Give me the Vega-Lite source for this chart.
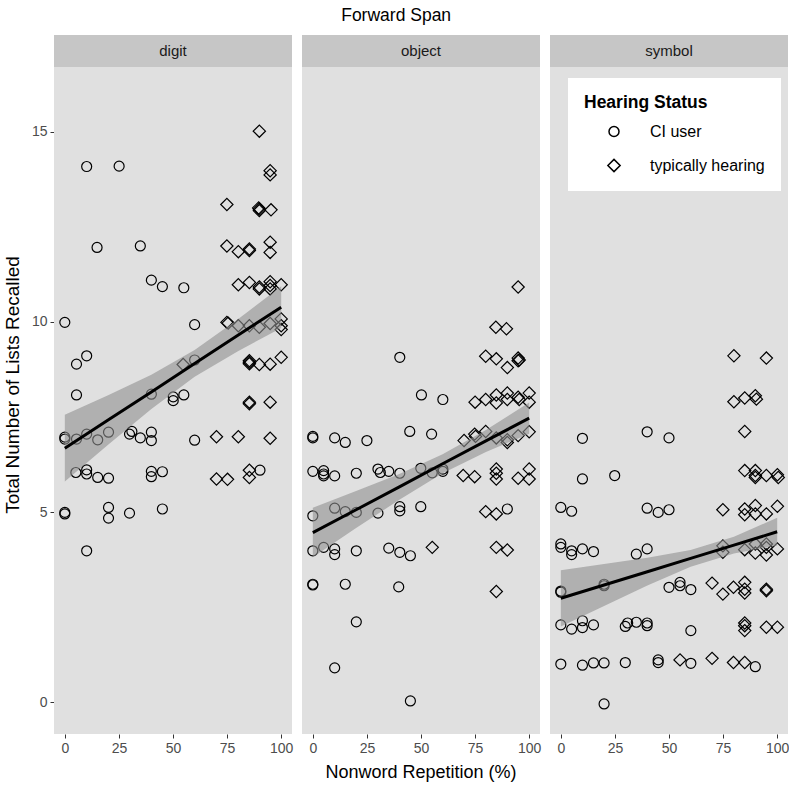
{
"$schema": "https://vega.github.io/schema/vega-lite/v6.json",
"padding": {"left": 3, "top": 6, "right": 0, "bottom": 0},
"background": "white",
"title": {"text": "Forward Span", "fontSize": 17.5, "font": "Liberation Sans", "fontWeight": "normal", "anchor": "middle", "color": "black", "offset": 11},
"config": {"font": "Liberation Sans", "view": {"stroke": null, "fill": "#E0E0E0"}},
"datasets": {
"pts": [
{"task":"digit","status":"CI user","nwr":10.1,"lists":14.09},{"task":"digit","status":"CI user","nwr":25.1,"lists":14.1},{"task":"digit","status":"CI user","nwr":14.9,"lists":11.96},{"task":"digit","status":"CI user","nwr":34.9,"lists":12.0},{"task":"digit","status":"CI user","nwr":40,"lists":11.1},{"task":"digit","status":"CI user","nwr":45.1,"lists":10.93},{"task":"digit","status":"CI user","nwr":55,"lists":10.9},{"task":"digit","status":"CI user","nwr":0,"lists":9.99},{"task":"digit","status":"CI user","nwr":60,"lists":9.93},{"task":"digit","status":"CI user","nwr":5.4,"lists":8.89},{"task":"digit","status":"CI user","nwr":10.1,"lists":9.11},{"task":"digit","status":"CI user","nwr":60,"lists":9.0},{"task":"digit","status":"CI user","nwr":5.4,"lists":8.08},{"task":"digit","status":"CI user","nwr":40,"lists":8.1},{"task":"digit","status":"CI user","nwr":50.1,"lists":8.03},{"task":"digit","status":"CI user","nwr":50.1,"lists":7.93},{"task":"digit","status":"CI user","nwr":55,"lists":8.08},
{"task":"digit","status":"CI user","nwr":0,"lists":6.97},{"task":"digit","status":"CI user","nwr":0,"lists":6.92},{"task":"digit","status":"CI user","nwr":5.4,"lists":6.92},{"task":"digit","status":"CI user","nwr":10.1,"lists":7.05},{"task":"digit","status":"CI user","nwr":15.2,"lists":6.9},{"task":"digit","status":"CI user","nwr":20.2,"lists":7.1},{"task":"digit","status":"CI user","nwr":29.9,"lists":7.05},{"task":"digit","status":"CI user","nwr":31,"lists":7.12},{"task":"digit","status":"CI user","nwr":34.9,"lists":6.95},{"task":"digit","status":"CI user","nwr":40,"lists":7.1},{"task":"digit","status":"CI user","nwr":40,"lists":6.88},{"task":"digit","status":"CI user","nwr":60,"lists":6.89},
{"task":"digit","status":"CI user","nwr":5.1,"lists":6.04},{"task":"digit","status":"CI user","nwr":10.1,"lists":6.11},{"task":"digit","status":"CI user","nwr":10.1,"lists":6.0},{"task":"digit","status":"CI user","nwr":15.2,"lists":5.91},{"task":"digit","status":"CI user","nwr":20.2,"lists":5.89},{"task":"digit","status":"CI user","nwr":40,"lists":6.07},{"task":"digit","status":"CI user","nwr":40,"lists":5.93},{"task":"digit","status":"CI user","nwr":45.1,"lists":6.06},{"task":"digit","status":"CI user","nwr":90.2,"lists":6.1},
{"task":"digit","status":"CI user","nwr":0,"lists":4.99},{"task":"digit","status":"CI user","nwr":0,"lists":4.95},{"task":"digit","status":"CI user","nwr":20.2,"lists":5.12},{"task":"digit","status":"CI user","nwr":20.2,"lists":4.84},{"task":"digit","status":"CI user","nwr":29.9,"lists":4.97},{"task":"digit","status":"CI user","nwr":45.1,"lists":5.08},{"task":"digit","status":"CI user","nwr":10.1,"lists":3.98},
{"task":"digit","status":"typically hearing","nwr":89.9,"lists":15.02},{"task":"digit","status":"typically hearing","nwr":94.9,"lists":13.98},{"task":"digit","status":"typically hearing","nwr":94.9,"lists":13.87},{"task":"digit","status":"typically hearing","nwr":74.9,"lists":13.09},{"task":"digit","status":"typically hearing","nwr":89.9,"lists":12.97},{"task":"digit","status":"typically hearing","nwr":89.6,"lists":13.0},{"task":"digit","status":"typically hearing","nwr":89.9,"lists":12.93},{"task":"digit","status":"typically hearing","nwr":95.3,"lists":12.95},
{"task":"digit","status":"typically hearing","nwr":74.9,"lists":12.0},{"task":"digit","status":"typically hearing","nwr":80.2,"lists":11.85},{"task":"digit","status":"typically hearing","nwr":85.3,"lists":11.92},{"task":"digit","status":"typically hearing","nwr":85.3,"lists":11.88},{"task":"digit","status":"typically hearing","nwr":94.9,"lists":12.1},{"task":"digit","status":"typically hearing","nwr":94.9,"lists":11.83},
{"task":"digit","status":"typically hearing","nwr":80.2,"lists":10.98},{"task":"digit","status":"typically hearing","nwr":85.3,"lists":11.04},{"task":"digit","status":"typically hearing","nwr":89.9,"lists":10.87},{"task":"digit","status":"typically hearing","nwr":89.9,"lists":10.92},{"task":"digit","status":"typically hearing","nwr":94.9,"lists":11.06},{"task":"digit","status":"typically hearing","nwr":94.9,"lists":10.96},{"task":"digit","status":"typically hearing","nwr":94.9,"lists":10.87},{"task":"digit","status":"typically hearing","nwr":100,"lists":10.98},
{"task":"digit","status":"typically hearing","nwr":74.9,"lists":9.99},{"task":"digit","status":"typically hearing","nwr":75.5,"lists":9.97},{"task":"digit","status":"typically hearing","nwr":80.2,"lists":9.9},{"task":"digit","status":"typically hearing","nwr":85.3,"lists":9.9},{"task":"digit","status":"typically hearing","nwr":89.9,"lists":9.86},{"task":"digit","status":"typically hearing","nwr":94.9,"lists":9.96},{"task":"digit","status":"typically hearing","nwr":100,"lists":10.08},{"task":"digit","status":"typically hearing","nwr":100,"lists":9.9},{"task":"digit","status":"typically hearing","nwr":100,"lists":9.8},
{"task":"digit","status":"typically hearing","nwr":54.7,"lists":8.88},{"task":"digit","status":"typically hearing","nwr":85.3,"lists":8.94},{"task":"digit","status":"typically hearing","nwr":85.3,"lists":8.98},{"task":"digit","status":"typically hearing","nwr":85.3,"lists":8.9},{"task":"digit","status":"typically hearing","nwr":89.9,"lists":8.88},{"task":"digit","status":"typically hearing","nwr":94.9,"lists":8.89},{"task":"digit","status":"typically hearing","nwr":100,"lists":9.07},
{"task":"digit","status":"typically hearing","nwr":85.3,"lists":7.89},{"task":"digit","status":"typically hearing","nwr":85.3,"lists":7.85},{"task":"digit","status":"typically hearing","nwr":94.9,"lists":7.89},
{"task":"digit","status":"typically hearing","nwr":70.1,"lists":6.98},{"task":"digit","status":"typically hearing","nwr":80.2,"lists":6.98},{"task":"digit","status":"typically hearing","nwr":94.9,"lists":6.94},
{"task":"digit","status":"typically hearing","nwr":70.1,"lists":5.87},{"task":"digit","status":"typically hearing","nwr":75.2,"lists":5.86},{"task":"digit","status":"typically hearing","nwr":85.3,"lists":6.1},{"task":"digit","status":"typically hearing","nwr":85.3,"lists":5.91},
{"task":"object","status":"CI user","nwr":40.2,"lists":9.07},{"task":"object","status":"CI user","nwr":50.2,"lists":8.08},{"task":"object","status":"CI user","nwr":60.1,"lists":7.96},
{"task":"object","status":"CI user","nwr":0,"lists":6.99},{"task":"object","status":"CI user","nwr":0,"lists":6.95},{"task":"object","status":"CI user","nwr":10.1,"lists":6.95},{"task":"object","status":"CI user","nwr":15,"lists":6.83},{"task":"object","status":"CI user","nwr":25,"lists":6.88},{"task":"object","status":"CI user","nwr":44.8,"lists":7.12},{"task":"object","status":"CI user","nwr":54.9,"lists":7.05},
{"task":"object","status":"CI user","nwr":0,"lists":6.07},{"task":"object","status":"CI user","nwr":5,"lists":6.09},{"task":"object","status":"CI user","nwr":5,"lists":6.0},{"task":"object","status":"CI user","nwr":5,"lists":5.95},{"task":"object","status":"CI user","nwr":10.1,"lists":5.95},{"task":"object","status":"CI user","nwr":20.1,"lists":6.02},{"task":"object","status":"CI user","nwr":30.1,"lists":6.13},{"task":"object","status":"CI user","nwr":31.2,"lists":6.04},{"task":"object","status":"CI user","nwr":35.1,"lists":6.07},{"task":"object","status":"CI user","nwr":40.2,"lists":6.02},{"task":"object","status":"CI user","nwr":49.9,"lists":6.15},{"task":"object","status":"CI user","nwr":55.2,"lists":6.03},{"task":"object","status":"CI user","nwr":60.1,"lists":6.13},{"task":"object","status":"CI user","nwr":60.1,"lists":6.07},
{"task":"object","status":"CI user","nwr":0,"lists":4.9},{"task":"object","status":"CI user","nwr":10.1,"lists":5.1},{"task":"object","status":"CI user","nwr":15,"lists":5.01},{"task":"object","status":"CI user","nwr":20.1,"lists":4.99},{"task":"object","status":"CI user","nwr":30.1,"lists":4.97},{"task":"object","status":"CI user","nwr":40.2,"lists":5.14},{"task":"object","status":"CI user","nwr":40.2,"lists":5.03},{"task":"object","status":"CI user","nwr":49.9,"lists":5.14},{"task":"object","status":"CI user","nwr":89.9,"lists":5.08},
{"task":"object","status":"CI user","nwr":0,"lists":3.98},{"task":"object","status":"CI user","nwr":5,"lists":4.07},{"task":"object","status":"CI user","nwr":10.1,"lists":4.03},{"task":"object","status":"CI user","nwr":10.1,"lists":3.88},{"task":"object","status":"CI user","nwr":20.1,"lists":3.98},{"task":"object","status":"CI user","nwr":35.1,"lists":4.05},{"task":"object","status":"CI user","nwr":40.2,"lists":3.94},{"task":"object","status":"CI user","nwr":45.1,"lists":3.85},
{"task":"object","status":"CI user","nwr":0,"lists":3.1},{"task":"object","status":"CI user","nwr":0,"lists":3.08},{"task":"object","status":"CI user","nwr":15,"lists":3.1},{"task":"object","status":"CI user","nwr":39.7,"lists":3.03},{"task":"object","status":"CI user","nwr":20.1,"lists":2.11},{"task":"object","status":"CI user","nwr":10.1,"lists":0.9},{"task":"object","status":"CI user","nwr":45.1,"lists":0.03},
{"task":"object","status":"typically hearing","nwr":94.9,"lists":10.92},{"task":"object","status":"typically hearing","nwr":84.6,"lists":9.86},{"task":"object","status":"typically hearing","nwr":89.5,"lists":9.82},{"task":"object","status":"typically hearing","nwr":79.9,"lists":9.1},{"task":"object","status":"typically hearing","nwr":84.8,"lists":9.03},{"task":"object","status":"typically hearing","nwr":89.9,"lists":8.8},{"task":"object","status":"typically hearing","nwr":94.9,"lists":9.05},{"task":"object","status":"typically hearing","nwr":94.9,"lists":8.98},{"task":"object","status":"typically hearing","nwr":95.4,"lists":9.0},
{"task":"object","status":"typically hearing","nwr":75,"lists":7.89},{"task":"object","status":"typically hearing","nwr":79.9,"lists":7.96},{"task":"object","status":"typically hearing","nwr":84.8,"lists":8.08},{"task":"object","status":"typically hearing","nwr":84.8,"lists":7.87},{"task":"object","status":"typically hearing","nwr":89.9,"lists":8.13},{"task":"object","status":"typically hearing","nwr":89.9,"lists":7.96},{"task":"object","status":"typically hearing","nwr":94.9,"lists":8.02},{"task":"object","status":"typically hearing","nwr":95.4,"lists":7.96},{"task":"object","status":"typically hearing","nwr":100,"lists":8.13},{"task":"object","status":"typically hearing","nwr":100,"lists":7.89},
{"task":"object","status":"typically hearing","nwr":69.9,"lists":6.88},{"task":"object","status":"typically hearing","nwr":74.8,"lists":7.05},{"task":"object","status":"typically hearing","nwr":75.2,"lists":6.99},{"task":"object","status":"typically hearing","nwr":79.9,"lists":7.12},{"task":"object","status":"typically hearing","nwr":84.8,"lists":6.95},{"task":"object","status":"typically hearing","nwr":89.9,"lists":6.83},{"task":"object","status":"typically hearing","nwr":89.9,"lists":6.9},{"task":"object","status":"typically hearing","nwr":94.9,"lists":7.01},{"task":"object","status":"typically hearing","nwr":100,"lists":7.11},
{"task":"object","status":"typically hearing","nwr":69.5,"lists":5.96},{"task":"object","status":"typically hearing","nwr":74.8,"lists":5.93},{"task":"object","status":"typically hearing","nwr":84.8,"lists":6.13},{"task":"object","status":"typically hearing","nwr":84.8,"lists":6.02},{"task":"object","status":"typically hearing","nwr":84.8,"lists":5.87},{"task":"object","status":"typically hearing","nwr":94.9,"lists":5.89},{"task":"object","status":"typically hearing","nwr":100,"lists":6.13},{"task":"object","status":"typically hearing","nwr":100,"lists":5.87},
{"task":"object","status":"typically hearing","nwr":79.9,"lists":5.01},{"task":"object","status":"typically hearing","nwr":84.8,"lists":4.95},{"task":"object","status":"typically hearing","nwr":55.2,"lists":4.07},{"task":"object","status":"typically hearing","nwr":84.8,"lists":4.07},{"task":"object","status":"typically hearing","nwr":89.9,"lists":4.0},{"task":"object","status":"typically hearing","nwr":84.8,"lists":2.91},
{"task":"symbol","status":"CI user","nwr":10,"lists":6.94},{"task":"symbol","status":"CI user","nwr":39.9,"lists":7.11},{"task":"symbol","status":"CI user","nwr":50,"lists":6.95},{"task":"symbol","status":"CI user","nwr":10,"lists":5.87},{"task":"symbol","status":"CI user","nwr":24.9,"lists":5.96},
{"task":"symbol","status":"CI user","nwr":0,"lists":5.12},{"task":"symbol","status":"CI user","nwr":5,"lists":5.02},{"task":"symbol","status":"CI user","nwr":39.9,"lists":5.1},{"task":"symbol","status":"CI user","nwr":45,"lists":4.99},{"task":"symbol","status":"CI user","nwr":50,"lists":5.06},
{"task":"symbol","status":"CI user","nwr":0,"lists":4.16},{"task":"symbol","status":"CI user","nwr":0,"lists":4.07},{"task":"symbol","status":"CI user","nwr":5,"lists":3.98},{"task":"symbol","status":"CI user","nwr":5,"lists":3.88},{"task":"symbol","status":"CI user","nwr":10,"lists":4.03},{"task":"symbol","status":"CI user","nwr":15.1,"lists":3.96},{"task":"symbol","status":"CI user","nwr":34.9,"lists":3.89},{"task":"symbol","status":"CI user","nwr":39.9,"lists":4.03},
{"task":"symbol","status":"CI user","nwr":0,"lists":2.89},{"task":"symbol","status":"CI user","nwr":0,"lists":2.92},{"task":"symbol","status":"CI user","nwr":20,"lists":3.1},{"task":"symbol","status":"CI user","nwr":20,"lists":3.06},{"task":"symbol","status":"CI user","nwr":50,"lists":3.02},{"task":"symbol","status":"CI user","nwr":55.1,"lists":3.15},{"task":"symbol","status":"CI user","nwr":55.1,"lists":3.06},{"task":"symbol","status":"CI user","nwr":60.1,"lists":2.96},
{"task":"symbol","status":"CI user","nwr":0,"lists":2.03},{"task":"symbol","status":"CI user","nwr":5,"lists":1.92},{"task":"symbol","status":"CI user","nwr":10,"lists":2.14},{"task":"symbol","status":"CI user","nwr":10,"lists":1.96},{"task":"symbol","status":"CI user","nwr":15.1,"lists":2.03},{"task":"symbol","status":"CI user","nwr":29.8,"lists":1.99},{"task":"symbol","status":"CI user","nwr":30.9,"lists":2.08},{"task":"symbol","status":"CI user","nwr":34.9,"lists":2.1},{"task":"symbol","status":"CI user","nwr":39.9,"lists":2.08},{"task":"symbol","status":"CI user","nwr":39.9,"lists":2.01},{"task":"symbol","status":"CI user","nwr":60.1,"lists":1.88},
{"task":"symbol","status":"CI user","nwr":0,"lists":1.0},{"task":"symbol","status":"CI user","nwr":10,"lists":0.97},{"task":"symbol","status":"CI user","nwr":15.1,"lists":1.03},{"task":"symbol","status":"CI user","nwr":20,"lists":1.03},{"task":"symbol","status":"CI user","nwr":29.8,"lists":1.04},{"task":"symbol","status":"CI user","nwr":45,"lists":1.11},{"task":"symbol","status":"CI user","nwr":45,"lists":1.04},{"task":"symbol","status":"CI user","nwr":60.1,"lists":1.02},{"task":"symbol","status":"CI user","nwr":89.9,"lists":0.93},{"task":"symbol","status":"CI user","nwr":20,"lists":-0.05},
{"task":"symbol","status":"typically hearing","nwr":80,"lists":9.11},{"task":"symbol","status":"typically hearing","nwr":95,"lists":9.05},{"task":"symbol","status":"typically hearing","nwr":80,"lists":7.9},{"task":"symbol","status":"typically hearing","nwr":85,"lists":8.0},{"task":"symbol","status":"typically hearing","nwr":89.9,"lists":8.06},{"task":"symbol","status":"typically hearing","nwr":90.4,"lists":7.97},{"task":"symbol","status":"typically hearing","nwr":85,"lists":7.12},
{"task":"symbol","status":"typically hearing","nwr":85,"lists":6.09},{"task":"symbol","status":"typically hearing","nwr":89.9,"lists":6.09},{"task":"symbol","status":"typically hearing","nwr":89.9,"lists":5.96},{"task":"symbol","status":"typically hearing","nwr":89.9,"lists":5.91},{"task":"symbol","status":"typically hearing","nwr":95,"lists":5.96},{"task":"symbol","status":"typically hearing","nwr":100.1,"lists":5.98},{"task":"symbol","status":"typically hearing","nwr":100.5,"lists":5.91},
{"task":"symbol","status":"typically hearing","nwr":74.9,"lists":5.06},{"task":"symbol","status":"typically hearing","nwr":85,"lists":5.08},{"task":"symbol","status":"typically hearing","nwr":85,"lists":4.93},{"task":"symbol","status":"typically hearing","nwr":89.9,"lists":5.17},{"task":"symbol","status":"typically hearing","nwr":89.9,"lists":4.95},{"task":"symbol","status":"typically hearing","nwr":95,"lists":4.95},{"task":"symbol","status":"typically hearing","nwr":100.1,"lists":5.15},
{"task":"symbol","status":"typically hearing","nwr":74.9,"lists":4.11},{"task":"symbol","status":"typically hearing","nwr":74.9,"lists":3.94},{"task":"symbol","status":"typically hearing","nwr":85,"lists":4.01},{"task":"symbol","status":"typically hearing","nwr":89.9,"lists":4.16},{"task":"symbol","status":"typically hearing","nwr":89.9,"lists":3.92},{"task":"symbol","status":"typically hearing","nwr":95,"lists":4.16},{"task":"symbol","status":"typically hearing","nwr":95,"lists":4.07},{"task":"symbol","status":"typically hearing","nwr":95,"lists":3.87},{"task":"symbol","status":"typically hearing","nwr":100.1,"lists":4.03},
{"task":"symbol","status":"typically hearing","nwr":69.9,"lists":3.13},{"task":"symbol","status":"typically hearing","nwr":74.9,"lists":2.84},{"task":"symbol","status":"typically hearing","nwr":79.8,"lists":3.02},{"task":"symbol","status":"typically hearing","nwr":85,"lists":3.15},{"task":"symbol","status":"typically hearing","nwr":85,"lists":2.97},{"task":"symbol","status":"typically hearing","nwr":85,"lists":2.87},{"task":"symbol","status":"typically hearing","nwr":95,"lists":2.97},{"task":"symbol","status":"typically hearing","nwr":95,"lists":2.93},
{"task":"symbol","status":"typically hearing","nwr":85,"lists":2.08},{"task":"symbol","status":"typically hearing","nwr":85,"lists":2.01},{"task":"symbol","status":"typically hearing","nwr":85,"lists":1.88},{"task":"symbol","status":"typically hearing","nwr":95,"lists":1.97},{"task":"symbol","status":"typically hearing","nwr":100.1,"lists":1.97},
{"task":"symbol","status":"typically hearing","nwr":55.1,"lists":1.11},{"task":"symbol","status":"typically hearing","nwr":69.9,"lists":1.15},{"task":"symbol","status":"typically hearing","nwr":79.8,"lists":1.04},{"task":"symbol","status":"typically hearing","nwr":85,"lists":1.04},
{"task":"digit","nwr":0,"fit":6.68,"lo":5.8,"hi":7.56},{"task":"digit","nwr":20,"fit":7.42,"lo":6.77,"hi":8.07},{"task":"digit","nwr":40,"fit":8.16,"lo":7.71,"hi":8.61},{"task":"digit","nwr":60,"fit":8.91,"lo":8.56,"hi":9.26},{"task":"digit","nwr":80,"fit":9.65,"lo":9.23,"hi":10.07},{"task":"digit","nwr":100,"fit":10.39,"lo":9.84,"hi":10.94},
{"task":"object","nwr":0,"fit":4.46,"lo":3.81,"hi":5.11},{"task":"object","nwr":20,"fit":5.06,"lo":4.58,"hi":5.55},{"task":"object","nwr":40,"fit":5.66,"lo":5.32,"hi":6.0},{"task":"object","nwr":60,"fit":6.27,"lo":6.02,"hi":6.52},{"task":"object","nwr":80,"fit":6.87,"lo":6.58,"hi":7.16},{"task":"object","nwr":100,"fit":7.47,"lo":7.06,"hi":7.88},
{"task":"symbol","nwr":0,"fit":2.73,"lo":1.99,"hi":3.47},{"task":"symbol","nwr":20,"fit":3.08,"lo":2.53,"hi":3.63},{"task":"symbol","nwr":40,"fit":3.43,"lo":3.07,"hi":3.8},{"task":"symbol","nwr":60,"fit":3.78,"lo":3.56,"hi":4.0},{"task":"symbol","nwr":80,"fit":4.13,"lo":3.91,"hi":4.35},{"task":"symbol","nwr":100,"fit":4.48,"lo":4.12,"hi":4.85}
]},
"data": {"name": "pts"},
"facet": {"column": {"field": "task", "type": "nominal", "header": {"labels": false, "title": "Nonword Repetition (%)", "titleOrient": "bottom", "titleFontSize": 18, "titleFontWeight": "normal", "titleColor": "black", "titleFont": "Liberation Sans", "titlePadding": -1, "titleBaseline": "top"}}},
"spacing": 10,
"spec": {
"width": 238,
"height": 699,
"layer": [
{"transform": [{"filter": {"and": [{"field": "fit", "valid": true}, {"field": "nwr", "equal": 0}]}}],
 "mark": {"type": "rect", "color": "#C6C6C6"},
 "encoding": {
  "x": {"datum": -5, "type": "quantitative", "scale": {"domain": [-5, 105], "nice": false, "zero": false}, "axis": {"title": null, "values": [0, 25, 50, 75, 100], "grid": false, "domain": false, "tickColor": "#333333", "tickSize": 4, "labelFontSize": 14, "labelColor": "#4D4D4D", "labelPadding": 3}},
  "x2": {"datum": 105},
  "y": {"datum": 16.71, "type": "quantitative", "scale": {"domain": [-0.84, 17.55], "nice": false, "zero": false}, "axis": {"title": "Total Number of Lists Recalled", "titleFontSize": 19, "titleFontWeight": "normal", "titleColor": "black", "titlePadding": 9, "values": [0, 5, 10, 15], "grid": false, "domain": false, "tickColor": "#333333", "tickSize": 4, "labelFontSize": 14, "labelColor": "#4D4D4D", "labelPadding": 3}},
  "y2": {"datum": 17.55}
 }},
{"transform": [{"filter": {"and": [{"field": "fit", "valid": true}, {"field": "nwr", "equal": 0}]}}],
 "mark": {"type": "text", "fontSize": 15, "color": "#1A1A1A", "baseline": "middle", "align": "center"},
 "encoding": {
  "x": {"datum": 50, "type": "quantitative"},
  "y": {"datum": 17.13, "type": "quantitative"},
  "text": {"field": "task", "type": "nominal"}
 }},
{"transform": [{"filter": {"field": "lists", "valid": true}}],
 "mark": {"type": "point", "filled": false, "color": "black", "strokeWidth": 1.2, "opacity": 1},
 "encoding": {
  "x": {"field": "nwr", "type": "quantitative"},
  "y": {"field": "lists", "type": "quantitative"},
  "shape": {"field": "status", "type": "nominal", "scale": {"domain": ["CI user", "typically hearing"], "range": ["circle", "diamond"]},
   "legend": {"title": "Hearing Status", "orient": "none", "legendX": 514, "legendY": 43, "fillColor": "white", "padding": 16, "titleFontSize": 17.5, "titleFontWeight": "bold", "titleColor": "black", "titlePadding": 12, "labelFontSize": 16, "labelColor": "black", "labelOffset": 28, "symbolOffset": 22, "rowPadding": 16}},
  "size": {"field": "status", "type": "nominal", "scale": {"domain": ["CI user", "typically hearing"], "range": [100, 150]},
   "legend": {"title": "Hearing Status", "orient": "none", "legendX": 514, "legendY": 43, "fillColor": "white", "padding": 16, "titleFontSize": 17.5, "titleFontWeight": "bold", "titleColor": "black", "titlePadding": 12, "labelFontSize": 16, "labelColor": "black", "labelOffset": 28, "symbolOffset": 22, "rowPadding": 16}}
 }},
{"transform": [{"filter": {"field": "fit", "valid": true}}],
 "mark": {"type": "area", "color": "#8F8F8F", "opacity": 0.6},
 "encoding": {
  "x": {"field": "nwr", "type": "quantitative"},
  "y": {"field": "lo", "type": "quantitative"},
  "y2": {"field": "hi"}
 }},
{"transform": [{"filter": {"field": "fit", "valid": true}}],
 "mark": {"type": "line", "color": "black", "strokeWidth": 3},
 "encoding": {
  "x": {"field": "nwr", "type": "quantitative"},
  "y": {"field": "fit", "type": "quantitative"}
 }}
]
}
}
